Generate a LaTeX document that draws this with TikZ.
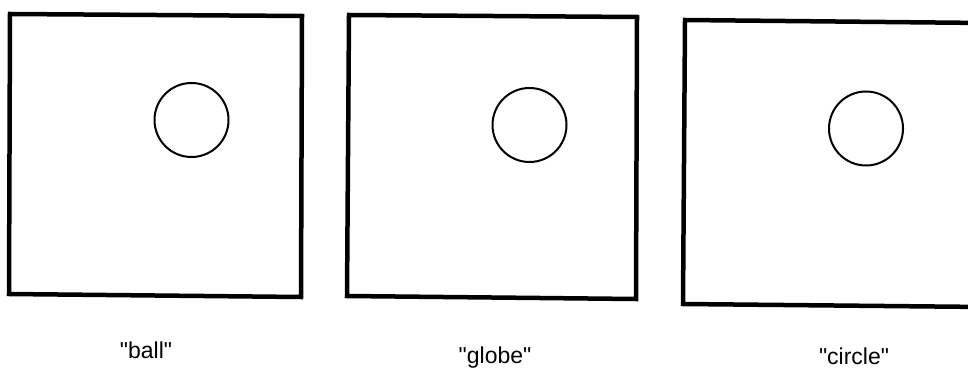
\documentclass[tikz,border=0pt]{standalone}
\usepackage{fontspec}
\setmainfont{Liberation Sans}[Ligatures=TeXOff]
\begin{document}
\begin{tikzpicture}[x=1pt,y=-1pt,
  frame/.style={line width=4.5pt,line join=miter},
  ring/.style={draw,line width=2pt,circle,minimum size=74pt,inner sep=0pt},
  caption/.style={anchor=base,font=\fontsize{23}{26}\selectfont,inner sep=0pt}]
\path[use as bounding box] (0,0) rectangle (968,371);
\clip (0,0) rectangle (968,371);
% box 1
\coordinate (a1) at (10,14);
\coordinate (a2) at (302,16);
\coordinate (a3) at (301,297);
\coordinate (a4) at (9,294);
\draw[frame] (a1) -- (a2) -- (a3) -- (a4) -- cycle;
% box 2
\coordinate (b1) at (349,15);
\coordinate (b2) at (637,17);
\coordinate (b3) at (636,299);
\coordinate (b4) at (347,296);
\draw[frame] (b1) -- (b2) -- (b3) -- (b4) -- cycle;
% box 3 (cut off at the right)
\coordinate (c1) at (985,23);
\coordinate (c2) at (685,20);
\coordinate (c3) at (683,304);
\coordinate (c4) at (985,307);
\draw[frame] (c1) -- (c2) -- (c3) -- (c4);
% circles
\node[ring] (r1) at (191.5,120) {};
\node[ring] (r2) at (529.5,125) {};
\node[ring] (r3) at (866,128.5) {};
% labels
\node[caption] (l1) at (146,358) {"ball"};
\node[caption] (l2) at (495,363) {"globe"};
\node[caption] (l3) at (854,364) {"circle"};
\end{tikzpicture}
\end{document}
